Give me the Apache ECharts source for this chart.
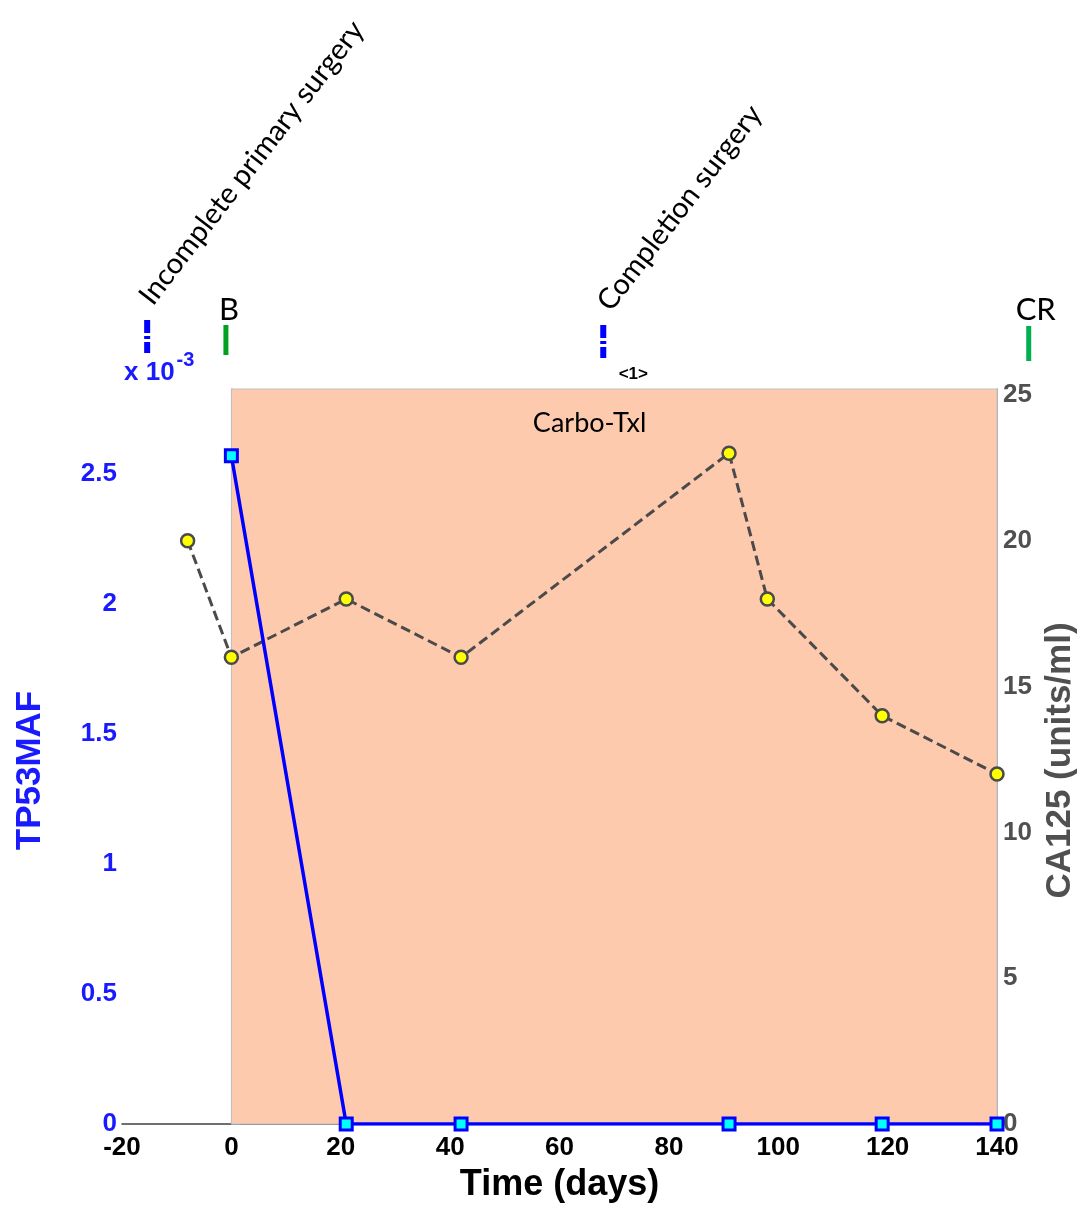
<!DOCTYPE html>
<html>
<head>
<meta charset="utf-8">
<script src="https://cdn.jsdelivr.net/npm/echarts@6/dist/echarts.min.js"></script>
<style>
html,body{margin:0;padding:0;background:#fff;}
#chart{width:1086px;height:1209px;}
</style>
</head>
<body>
<div id="chart"></div>
<script>
// ---- data ----
const xTickValues = [-20, 0, 20, 40, 60, 80, 100, 120, 140];
const mafDays = [0, 21, 42, 91, 119, 140];
const mafValues = [2.57, 0, 0, 0, 0, 0];          // x 10^-3
const caDays = [-8, 0, 21, 42, 91, 98, 119, 140];
const caValues = [20, 16, 18, 16, 23, 18, 14, 12];
const therapyRange = [0, 140];
const therapyLabel = 'Carbo-Txl';
const therapyLabelDay = 65.5;
const surgeryDays = [-15.4, 68];
const surgeryLabels = ['Incomplete primary surgery', 'Completion surgery'];
const responseDays = [-1, 145.8];
const responseLabels = ['B', 'CR'];
const cycleLabel = '<1>';
const cycleDay = 73.5;

const chart = echarts.init(document.getElementById('chart'));
const BOLD = 'Liberation Sans, Arial, sans-serif';
const option = {
  animation: false,
  backgroundColor: '#ffffff',
  grid: { left: 122, right: 89, top: 389, bottom: 85, containLabel: false, outerBoundsMode: 'none' },
  xAxis: {
    type: 'value', min: -20, max: 140, interval: 20,
    name: 'Time (days)', nameLocation: 'middle', nameGap: 43,
    nameTextStyle: { fontFamily: BOLD, fontWeight: 'bold', fontSize: 36, color: '#000' },
    axisLine: { show: true, lineStyle: { color: '#404040', width: 1.5 } },
    axisTick: { show: false },
    axisLabel: { margin: 11, fontFamily: BOLD, fontWeight: 'bold', fontSize: 26, color: '#000',
      formatter: v => xTickValues.includes(v) ? String(v) : '' },
    splitLine: { show: false }
  },
  yAxis: [
    {
      type: 'value', min: 0, max: 2.827, interval: 0.5, position: 'left',
      name: 'TP53MAF', nameLocation: 'middle', nameGap: 74, nameRotate: 90,
      nameTextStyle: { fontFamily: BOLD, fontWeight: 'bold', fontSize: 35, color: '#1a1aff', padding: [0, 28, 0, 0] },
      axisLine: { show: true, lineStyle: { color: '#8080ff', width: 1.5 } },
      axisTick: { show: true, inside: true, length: 8, lineStyle: { color: '#8080ff' } },
      axisLabel: { margin: 5, fontFamily: BOLD, fontWeight: 'bold', fontSize: 26, color: '#1a1aff',
        showMaxLabel: false, formatter: v => (v > 2.6 ? '' : String(v)) },
      splitLine: { show: false }
    },
    {
      type: 'value', min: 0, max: 25.2, interval: 5, position: 'right',
      name: 'CA125 (units/ml)', nameLocation: 'middle', nameGap: 45, nameRotate: 90,
      nameTextStyle: { fontFamily: BOLD, fontWeight: 'bold', fontSize: 35, color: '#505050', padding: [0, 8, 0, 0] },
      axisLine: { show: true, lineStyle: { color: '#8c8c8c', width: 1.5 } },
      axisTick: { show: false },
      axisLabel: { margin: 6, fontFamily: BOLD, fontWeight: 'bold', fontSize: 26, color: '#505050',
        showMaxLabel: false, formatter: v => (v > 25.05 ? '' : String(v)) },
      splitLine: { show: false }
    }
  ],
  series: [
    {
      type: 'line', name: 'CA125', yAxisIndex: 1, z: 3,
      data: caDays.map((d, i) => [d, caValues[i]]),
      lineStyle: { color: '#4a4a4a', width: 3, type: [10, 5] },
      symbol: 'circle', symbolSize: 13,
      itemStyle: { color: '#ffff00', borderColor: '#4a4a4a', borderWidth: 2.5 },
      markArea: {
        silent: true,
        itemStyle: { color: '#fdcaae', borderColor: '#c0c0c0', borderWidth: 1 },
        data: [[{ xAxis: therapyRange[0], yAxis: 0 }, { xAxis: therapyRange[1], yAxis: 25.2 }]],
        z: 1
      }
    },
    {
      type: 'line', name: 'TP53MAF', yAxisIndex: 0, z: 4,
      data: mafDays.map((d, i) => [d, mafValues[i]]),
      lineStyle: { color: '#0000ff', width: 3.5 },
      symbol: 'rect', symbolSize: 12,
      itemStyle: { color: '#00ffff', borderColor: '#0000ff', borderWidth: 3 }
    }
  ]
};
chart.setOption(option);

function px(day) { return chart.convertToPixel({ xAxisIndex: 0 }, day); }
const ANN = 'Lato, Open Sans, sans-serif';
const g = [];
// therapy label
g.push({ type: 'text', x: px(therapyLabelDay), y: 423, z: 50,
  style: { text: therapyLabel, font: '27px ' + ANN, fill: '#000', textAlign: 'center', textVerticalAlign: 'middle' } });
// surgery markers (blue dashed) and rotated labels
const surgStarts = [[157, 310], [615, 316]];
const surgFont = [29, 29];
surgeryDays.forEach((d, i) => {
  const x = px(d);
  const y0 = i === 0 ? 320 : 325;
  g.push({ type: 'line', z: 50, shape: { x1: x, y1: y0, x2: x, y2: y0 + 33 },
    style: { stroke: '#0000ff', lineWidth: 6, lineDash: [13, 3, 3, 3] } });
  g.push({ type: 'text', x: surgStarts[i][0], y: surgStarts[i][1], rotation: 52.5 * Math.PI / 180, z: 50,
    style: { text: surgeryLabels[i], font: surgFont[i] + 'px ' + ANN, fill: '#000', textAlign: 'left', textVerticalAlign: 'bottom' } });
});
// response markers
const respColors = ['#00a020', '#00b050'];
const respY = [[325, 355], [326, 361]];
responseDays.forEach((d, i) => {
  const x = px(d);
  g.push({ type: 'line', z: 50, shape: { x1: x, y1: respY[i][0], x2: x, y2: respY[i][1] },
    style: { stroke: respColors[i], lineWidth: 5 } });
  g.push({ type: 'text', x: x + 3 + (i === 1 ? 4 : 0), y: 310, z: 50,
    style: { text: responseLabels[i], font: '31px ' + ANN, fill: '#000', textAlign: 'center', textVerticalAlign: 'middle' } });
});
// cycle label
g.push({ type: 'text', x: px(cycleDay), y: 374, z: 50,
  style: { text: cycleLabel, font: 'bold 17px ' + BOLD, fill: '#000', textAlign: 'center', textVerticalAlign: 'middle' } });
// exponent label
g.push({ type: 'text', x: 124, y: 368, z: 50,
  style: { text: '{a|x 10}{b|-3}', textVerticalAlign: 'middle',
    rich: { a: { font: 'bold 26px ' + BOLD, fill: '#1a1aff', color: '#1a1aff', verticalAlign: 'bottom', lineHeight: 28 },
            b: { font: 'bold 20px ' + BOLD, fill: '#1a1aff', color: '#1a1aff', verticalAlign: 'top', padding: [0, 0, 16, 2] } } } });
chart.setOption({ graphic: g });
</script>
</body>
</html>
